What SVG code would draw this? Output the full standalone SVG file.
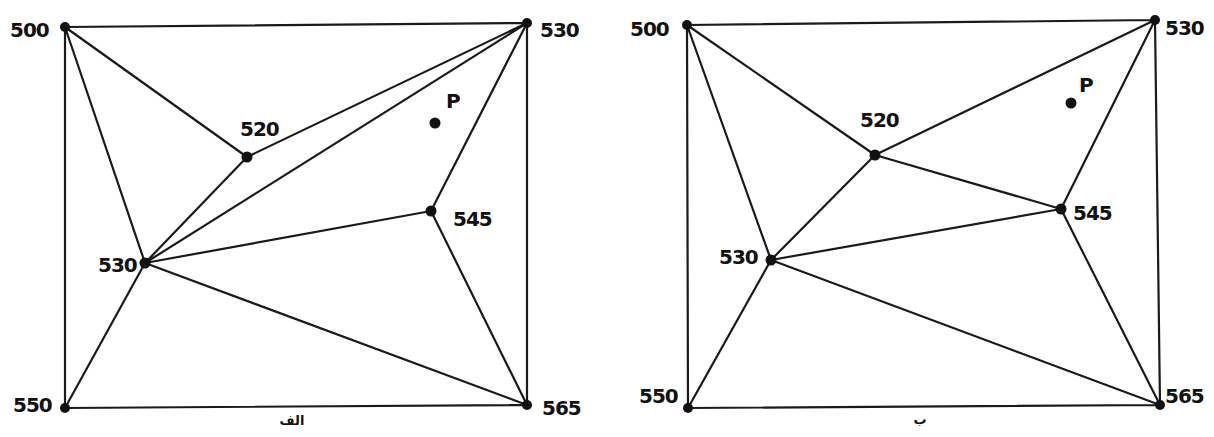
<svg xmlns="http://www.w3.org/2000/svg" width="1214" height="437" viewBox="0 0 1214 437">
<style>
.e{stroke:#1a1a1a;stroke-width:2.2;fill:none;stroke-linecap:round}
.n{fill:#111}
.t{font-family:"DejaVu Sans","Liberation Sans",sans-serif;font-weight:bold;font-size:20px;fill:#111;letter-spacing:-1px}
.c{font-family:"Noto Sans","DejaVu Sans",sans-serif;font-weight:bold;font-size:13px;fill:#111}
</style>
<rect width="1214" height="437" fill="#fff"/>
<g id="connectors-a">
<path class="e" d="M65 27L527 23M65 27L247 157M65 27L145 263M65 27L65 408M247 157L527 23M247 157L145 263M145 263L527 23M145 263L431 211M145 263L65 408M145 263L527 405M431 211L527 23M431 211L527 405M527 23L527 405M65 408L527 405"/>
</g>
<g id="connectors-b">
<path class="e" d="M687 25L1155 20M687 25L875 155M687 25L771 260M687 25L688 408M875 155L1155 20M875 155L771 260M875 155L1061 209M771 260L1061 209M771 260L688 408M771 260L1160 405M1061 209L1155 20M1061 209L1160 405M1155 20L1160 405M688 408L1160 405"/>
</g>
<g id="a-500"><circle class="n" cx="65" cy="27" r="5"/><text class="t" x="10" y="37">500</text></g>
<g id="a-530t"><circle class="n" cx="527" cy="23" r="5"/><text class="t" x="540" y="37">530</text></g>
<g id="a-520"><circle class="n" cx="247" cy="157" r="5.5"/><text class="t" x="240" y="136">520</text></g>
<g id="a-p"><circle class="n" cx="435" cy="123" r="5.5"/><text class="t" x="446" y="108">P</text></g>
<g id="a-545"><circle class="n" cx="431" cy="211" r="5.5"/><text class="t" x="453" y="226">545</text></g>
<g id="a-530m"><circle class="n" cx="145" cy="263" r="5.5"/><text class="t" x="98" y="272">530</text></g>
<g id="a-550"><circle class="n" cx="65" cy="408" r="5"/><text class="t" x="13" y="412">550</text></g>
<g id="a-565"><circle class="n" cx="527" cy="405" r="5"/><text class="t" x="542" y="415">565</text></g>
<g id="a-caption"><text class="c" x="292" y="425" text-anchor="middle">الف</text></g>
<g id="b-500"><circle class="n" cx="687" cy="25" r="5"/><text class="t" x="630" y="36">500</text></g>
<g id="b-530t"><circle class="n" cx="1155" cy="20" r="5"/><text class="t" x="1165" y="35">530</text></g>
<g id="b-520"><circle class="n" cx="875" cy="155" r="5.5"/><text class="t" x="860" y="127">520</text></g>
<g id="b-p"><circle class="n" cx="1071" cy="103" r="5.5"/><text class="t" x="1079" y="92">P</text></g>
<g id="b-545"><circle class="n" cx="1061" cy="209" r="5.5"/><text class="t" x="1073" y="220">545</text></g>
<g id="b-530m"><circle class="n" cx="771" cy="260" r="5.5"/><text class="t" x="719" y="264">530</text></g>
<g id="b-550"><circle class="n" cx="688" cy="408" r="5"/><text class="t" x="639" y="403">550</text></g>
<g id="b-565"><circle class="n" cx="1160" cy="405" r="5"/><text class="t" x="1165" y="403">565</text></g>
<g id="b-caption"><text class="c" x="920" y="424" text-anchor="middle">ب</text></g>
</svg>
